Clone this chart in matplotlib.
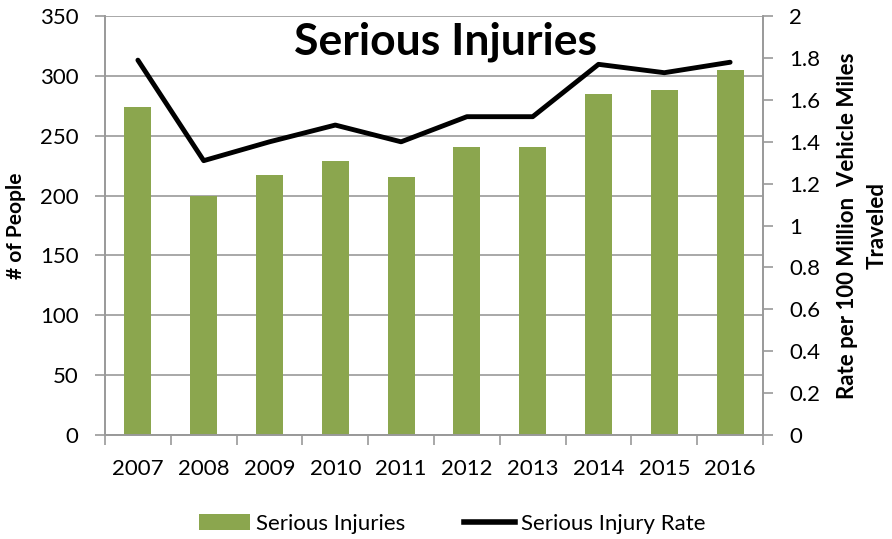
import numpy as np
import matplotlib.pyplot as plt
from matplotlib.patches import Patch
from matplotlib.lines import Line2D

plt.rcParams['font.family'] = ['Lato', 'DejaVu Sans']

years = ['2007', '2008', '2009', '2010', '2011', '2012', '2013', '2014', '2015', '2016']
injuries = [274, 200, 217, 229, 216, 241, 241, 285, 288, 305]
rate = [1.79, 1.31, 1.40, 1.48, 1.40, 1.52, 1.52, 1.77, 1.73, 1.78]

green = '#8BA64E'
grid_c = '#999999'

fig = plt.figure(figsize=(8.92, 5.39), dpi=100)
ax = fig.add_axes([0.1177, 0.193, 0.7377, 0.777])
ax2 = ax.twinx()

x = np.arange(len(years))
ax.bar(x, injuries, width=0.41, color=green, zorder=2)
ax2.plot(x, rate, color='black', lw=3.5, solid_capstyle='round', zorder=3)

ax.set_xlim(-0.5, len(years) - 0.5)
ax.set_ylim(0, 350)
ax2.set_ylim(0, 2)
ax.set_yticks(np.arange(0, 351, 50))
ax2.set_yticks(np.arange(0, 2.01, 0.2))
ax2.set_yticklabels(['0', '0.2', '0.4', '0.6', '0.8', '1', '1.2', '1.4', '1.6', '1.8', '2'])
ax.yaxis.grid(True, color=grid_c, lw=1.2, zorder=0)
ax.set_axisbelow(True)

# x ticks sit between categories, labels centered under bars
ax.set_xticks(np.arange(-0.5, len(years), 1))
ax.set_xticklabels([])
ax.set_xticks(x, minor=True)
ax.set_xticklabels(years, minor=True)
ax.tick_params(axis='x', which='minor', length=0, pad=17, labelsize=16)
ax.tick_params(axis='x', which='major', length=7, color=grid_c, width=1.2)
ax.tick_params(axis='y', length=7, color=grid_c, width=1.2, labelsize=16, pad=12)
ax2.tick_params(axis='y', length=7, color=grid_c, width=1.2, labelsize=16, pad=12)

for a in (ax, ax2):
    for s in a.spines.values():
        s.set_color(grid_c)
        s.set_linewidth(1.2)
    a.spines['top'].set_visible(False)

ax.set_ylabel('# of People', fontsize=15, fontweight='bold', labelpad=10)
ax2.set_ylabel('Rate per 100 Million  Vehicle Miles\nTraveled', fontsize=16,
               fontweight='bold', labelpad=12, linespacing=1.5)

ax.text(0.518, 0.94, 'Serious Injuries', transform=ax.transAxes, ha='center',
        va='center', fontsize=32, fontweight='bold')

handles = [Patch(facecolor=green), Line2D([0], [0], color='black', lw=4)]
fig.legend(handles, ['Serious Injuries', 'Serious Injury Rate'], loc='center',
           bbox_to_anchor=(0.507, 0.028), ncol=2, frameon=False, fontsize=16,
           handlelength=2.3, handletextpad=0.3, columnspacing=2.6)

fig.savefig('out.png', dpi=100)
